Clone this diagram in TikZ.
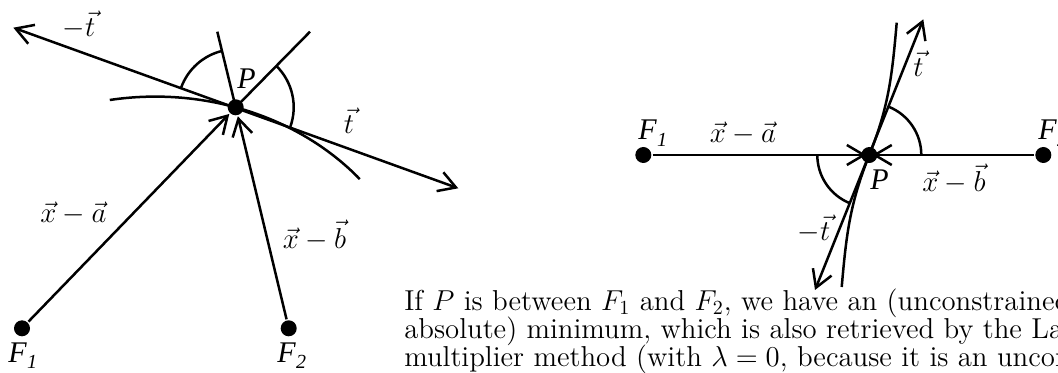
\documentclass[tikz,border=0pt]{standalone}
\usepackage{fontspec}
\newfontfamily\figfont{Liberation Serif}
\usetikzlibrary{arrows.meta,calc}
\newcommand\FigLab[2]{{\figfont\fontsize{15}{15}\selectfont\itshape #1\kern0.3pt\raisebox{-0.5ex}{\fontsize{10}{10}\selectfont #2}}}
\begin{document}
\begin{tikzpicture}[x=0.5pt,y=-0.5pt,line width=1.25pt,
  tip/.tip={Straight Barb[length=8.5pt,width=10pt]},
  arr/.style={-tip},
  darr/.style={tip-tip},
  dot/.style={circle,fill,inner sep=0pt,minimum size=8pt},
  vlab/.style={font=\fontsize{14.4}{17}\selectfont,inner sep=0pt},
  flab/.style={inner sep=0pt},
  body/.style={font=\fontsize{14.4}{14.4}\selectfont,inner sep=0pt,anchor=base west}]
\useasboundingbox (0,0) rectangle (1058,373);
\clip (0,0) rectangle (1058,373);
% ---------- left figure ----------
\node[dot] (P1) at (235.7,107.3) {};
\node[dot] (F1a) at (22,328.3) {};
\node[dot] (F2a) at (288.7,328.3) {};
\coordinate (Ta) at (458.3,188.3);
\coordinate (Tb) at (13.3,27.7);
\coordinate (E1) at (310,31.7);
\coordinate (E2) at (217.3,31.7);
\coordinate (C1) at (155.3,328.3);
\draw[darr] (Tb) -- (Ta);
\draw (P1.center) -- (E1);
\draw (P1.center) -- (E2);
\draw[arr] (F1a) -- (P1);
\draw[arr] (F2a) -- (P1);
\draw ($(C1)+(40.1:133.65pt and 115.85pt)$) arc[start angle=40.1,end angle=99.8,x radius=133.65pt,y radius=115.85pt];
\draw ($(P1.center)+(103.7:29pt)$) arc[start angle=103.7,end angle=160.3,radius=29pt];
\draw ($(P1.center)+(-20:29pt)$) arc[start angle=-20,end angle=45.5,radius=29pt];
\node[vlab,anchor=base] (lmt) at (79,36.7) {$-\vec{t}$};
\node[vlab,anchor=base] (lt) at (349,134) {$\vec{t}$};
\node[vlab,anchor=base] (lxa) at (73.5,222.7) {$\vec{x}-\vec{a}$};
\node[vlab,anchor=base] (lxb) at (314.5,248.3) {$\vec{x}-\vec{b}$};
\node[flab,anchor=base west] (lP1) at (236,88.3) {\figfont\fontsize{15}{15}\selectfont\itshape P};
\node[flab,anchor=base west] (lF1a) at (7,362) {\FigLab{F}{1}};
\node[flab,anchor=base west] (lF2a) at (276,362) {\FigLab{F}{2}};
% ---------- right figure ----------
\node[dot] (P2) at (869.3,155) {};
\node[dot] (F1b) at (643.3,155) {};
\node[dot] (F2b) at (1043.3,155) {};
\coordinate (Tc) at (923.3,19.3);
\coordinate (Td) at (815,290);
\coordinate (K1) at (841.7,287);
\coordinate (K2) at (896.7,22.7);
\draw[darr] (Td) -- (Tc);
\draw[arr,shorten >=1.5pt] (F1b) -- (P2.center);
\draw[arr,shorten >=1.5pt] (F2b) -- (P2.center);
\draw (K1) to[out=85,in=248.2] (P2.center) to[out=68.2,in=265] (K2);
\draw ($(P2.center)+(0:26pt)$) arc[start angle=0,end angle=68.2,radius=26pt];
\draw ($(P2.center)+(180:26pt)$) arc[start angle=180,end angle=248.2,radius=26pt];
\node[vlab,anchor=base] (rxa) at (743,143) {$\vec{x}-\vec{a}$};
\node[vlab,anchor=base] (rxb) at (954,191.7) {$\vec{x}-\vec{b}$};
\node[vlab,anchor=base] (rt) at (918.5,77) {$\vec{t}$};
\node[vlab,anchor=base] (rmt) at (814,241) {$-\vec{t}$};
\node[flab,anchor=base west] (rP) at (869,190) {\figfont\fontsize{15}{15}\selectfont\itshape P};
\node[flab,anchor=base west] (rF1) at (637,140) {\FigLab{F}{1}};
\node[flab,anchor=base west] (rF2) at (1037,140) {\FigLab{F}{2}};
% ---------- text ----------
\node[body] (txt1) at (403,310) {If $P$ is between $F_1$ and $F_2$, we have an (unconstrained,};
\node[body] (txt2) at (403,338) {absolute) minimum, which is also retrieved by the Lagrange};
\node[body] (txt3) at (403,366) {multiplier method (with $\lambda=0$, because it is an unconstrained};
\end{tikzpicture}
\end{document}
